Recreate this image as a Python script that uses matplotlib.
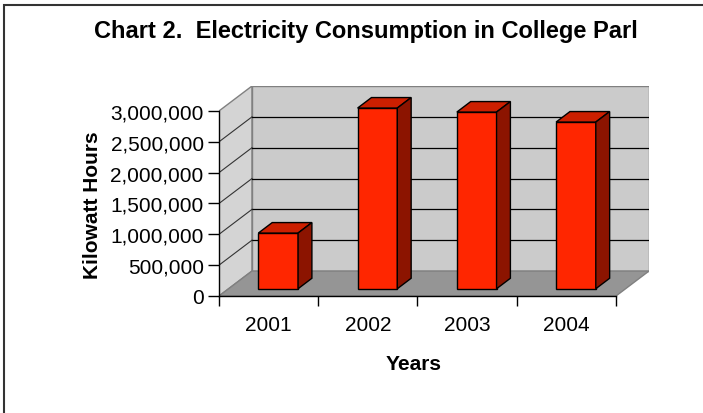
import matplotlib
matplotlib.use("Agg")
import matplotlib.pyplot as plt
from matplotlib.patches import Polygon, Rectangle
from matplotlib.ticker import FuncFormatter

years = ["2001", "2002", "2003", "2004"]
kwh = [903000, 2930000, 2865000, 2703000]
y_ticks = [0, 500000, 1000000, 1500000, 2000000, 2500000, 3000000]

plt.rcParams['font.family'] = ['Liberation Sans', 'DejaVu Sans']

W, H = 703, 414
fig = plt.figure(figsize=(W / 100, H / 100), dpi=100)

# oblique offset of the back of the box (x in category units, y in kWh)
ddx = 0.3325
ddy = 405000
ymax = y_ticks[-1]
n = len(years)

ax = fig.add_axes([219 / W, 1 - 297 / H, 430 / W, 210 / H])
ax.set_xlim(0, n + ddx)
ax.set_ylim(0, ymax + ddy)
ax.patch.set_visible(False)

# walls and floor
ax.add_patch(Polygon([(0, 0), (ddx, ddy), (ddx, ymax + ddy), (0, ymax)],
                     fc='#d4d4d4', ec='#808080', lw=1, zorder=1))
ax.add_patch(Polygon([(ddx, ddy), (n + ddx, ddy), (n + ddx, ymax + ddy), (ddx, ymax + ddy)],
                     fc='#cbcbcb', ec='#808080', lw=1, zorder=1))
ax.add_patch(Polygon([(0, 0), (n, 0), (n + ddx, ddy), (ddx, ddy)],
                     fc='#959595', ec='#808080', lw=1, zorder=1))

# gridlines on back wall + side wall
for v in y_ticks[1:-1]:
    ax.plot([ddx, n + ddx], [v + ddy, v + ddy], color='black', lw=0.9, zorder=2)
    ax.plot([0, ddx], [v, v + ddy], color='#333333', lw=0.8, zorder=2)

# 3d bars
f0, f1 = 0.29, 0.71
bw = 0.40
dx = (f1 - f0) * ddx
dy = (f1 - f0) * ddy
for i, v in enumerate(kwh):
    x0 = i + 0.5 - bw / 2 + f0 * ddx
    y0 = f0 * ddy
    ax.bar(x0, v, width=bw, bottom=y0, align='edge', color='#ff2600',
           ec='black', lw=1, zorder=3)
    ax.add_patch(Polygon([(x0, y0 + v), (x0 + bw, y0 + v), (x0 + bw + dx, y0 + v + dy),
                          (x0 + dx, y0 + v + dy)], fc='#cc1f00', ec='black', lw=1, zorder=3))
    ax.add_patch(Polygon([(x0 + bw, y0), (x0 + bw + dx, y0 + dy), (x0 + bw + dx, y0 + v + dy),
                          (x0 + bw, y0 + v)], fc='#8c1400', ec='black', lw=1, zorder=3))

for s in ['top', 'right']:
    ax.spines[s].set_visible(False)
ax.spines['left'].set_bounds(0, ymax)
ax.spines['bottom'].set_bounds(0, n)
for s in ['left', 'bottom']:
    ax.spines[s].set_zorder(4)
    ax.spines[s].set_linewidth(1)

ax.set_yticks(y_ticks)
ax.yaxis.set_major_formatter(FuncFormatter(lambda v, p: f"{v:,.0f}"))
ax.tick_params(axis='y', length=8, width=1, pad=3, labelsize=15)

ax.set_xticks(range(n + 1))
ax.set_xticklabels([])
ax.set_xticks([i + 0.5 for i in range(n)], minor=True)
ax.set_xticklabels(years, minor=True)
ax.tick_params(axis='x', which='major', length=7, width=1)
ax.tick_params(axis='x', which='minor', length=0, pad=14, labelsize=15)

fig.text(413.5 / W, 1 - 365 / H, 'Years', ha='center', va='center',
         fontsize=15, fontweight='bold')
fig.text(93 / W, 1 - 205 / H, 'Kilowatt Hours', ha='center', va='center',
         rotation=90, fontsize=15, fontweight='bold')
fig.text(366 / W, 1 - 38 / H, 'Chart 2.  Electricity Consumption in College Parl',
         ha='center', va='baseline', fontsize=17, fontweight='bold')

# chart frame
fig.add_artist(Rectangle((3.5 / W, -0.1), 1.2, (H - 5.5) / H + 0.1,
                         transform=fig.transFigure, fill=False, ec='#333333', lw=1.5))

fig.savefig('out.png', dpi=100)
